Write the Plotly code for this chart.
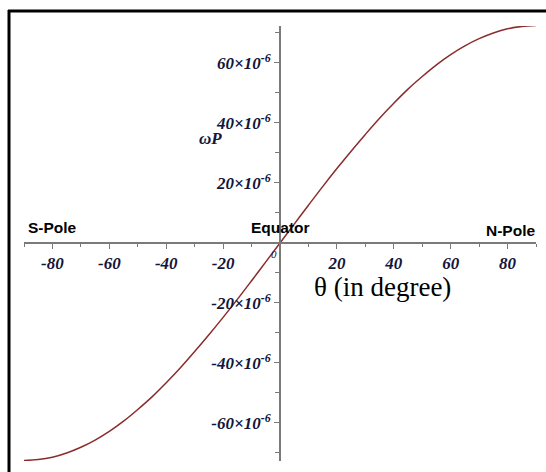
import plotly.graph_objects as go

# latitude (degrees) and omega_P values (in units of 1e-6)
theta_deg = [-90, -85, -80, -75, -70, -65, -60, -55, -50, -45, -40, -35, -30, -25, -20, -15, -10, -5,
             0, 5, 10, 15, 20, 25, 30, 35, 40, 45, 50, 55, 60, 65, 70, 75, 80, 85, 90]
omega_p_micro = [-72.5, -72.2, -71.4, -70.0, -68.1, -65.7, -62.8, -59.4, -55.5, -51.3, -46.6, -41.6,
                 -36.2, -30.6, -24.8, -18.8, -12.6, -6.3,
                 0.0, 6.3, 12.6, 18.8, 24.8, 30.6, 36.2, 41.6, 46.6, 51.3, 55.5, 59.4, 62.8, 65.7,
                 68.1, 70.0, 71.4, 72.2, 72.5]

x_tickvals = [-80, -60, -40, -20, 20, 40, 60, 80]
x_ticktext = ["-80", "-60", "-40", "-20", "20", "40", "60", "80"]
y_tickvals = [-60, -40, -20, 20, 40, 60]
y_ticktext = ["-60×10<sup>-6</sup>", "-40×10<sup>-6</sup>", "-20×10<sup>-6</sup>",
              "20×10<sup>-6</sup>", "40×10<sup>-6</sup>", "60×10<sup>-6</sup>"]

W, H = 546, 472
ml, mr, mt, mb = 24, 10, 26, 11
x_range = [-90, 90]
y_range = [-72.67, 72.33]

axis_col = "#7a7a7a"
lab_col = "#15153a"
tick_font = dict(family="Liberation Serif", size=17, color=lab_col, weight="bold", style="italic")

fig = go.Figure()
fig.add_trace(go.Scatter(x=theta_deg, y=omega_p_micro, mode="lines",
                         line=dict(color="#8b2c2c", width=1.5, shape="spline"),
                         hoverinfo="skip", showlegend=False))

x0_paper = (0 - y_range[0]) / (y_range[1] - y_range[0])
fig.update_layout(
    width=W, height=H,
    margin=dict(l=ml, r=mr, t=mt, b=mb),
    paper_bgcolor="white", plot_bgcolor="white",
    xaxis=dict(range=x_range, anchor="free", position=x0_paper,
               showline=True, linecolor=axis_col, linewidth=1.5,
               showgrid=False, zeroline=False,
               tickmode="array", tickvals=x_tickvals, ticktext=x_ticktext,
               ticks="outside", ticklen=5, tickwidth=1.2, tickcolor=axis_col,
               minor=dict(tickmode="linear", tick0=0, dtick=10, ticks="outside",
                          ticklen=3, tickwidth=1.2, tickcolor=axis_col),
               tickfont=tick_font),
    yaxis=dict(range=y_range, anchor="free", position=0.5,
               showline=True, linecolor=axis_col, linewidth=2,
               showgrid=False, zeroline=False,
               tickmode="array", tickvals=y_tickvals, ticktext=y_ticktext,
               ticks="outside", ticklen=5, tickwidth=1.2, tickcolor=axis_col,
               minor=dict(tickmode="linear", tick0=0, dtick=10, ticks="outside",
                          ticklen=4, tickwidth=1.2, tickcolor=axis_col),
               tickfont=tick_font),
)

# frame (top and left edges visible)
pw, ph = W - ml - mr, H - mt - mb
def px(xp):
    return (xp - ml) / pw
def py(yp):
    return (H - mb - yp) / ph
fig.add_shape(type="line", xref="paper", yref="paper", x0=px(8), x1=px(548), y0=py(11), y1=py(11),
              line=dict(color="black", width=3))
fig.add_shape(type="line", xref="paper", yref="paper", x0=px(9), x1=px(9), y0=py(10), y1=py(475),
              line=dict(color="black", width=3))

sans = dict(family="Liberation Sans", size=15.5, color="black", weight="bold")
fig.add_annotation(x=-80, y=5.3, xref="x", yref="y", text="S-Pole", showarrow=False, font=sans)
fig.add_annotation(x=0, y=5.3, xref="x", yref="y", text="Equator", showarrow=False, font=sans)
fig.add_annotation(x=80.9, y=4.3, xref="x", yref="y", text="N-Pole", showarrow=False, font=sans)
fig.add_annotation(x=36, y=-14.7, xref="x", yref="y", text="θ (in degree)", showarrow=False,
                   font=dict(family="Liberation Serif", size=27, color="black"))
fig.add_annotation(x=-24.6, y=34.7, xref="x", yref="y", text="ωP", showarrow=False,
                   font=dict(family="Liberation Serif", size=17, color=lab_col, style="italic", weight="bold"))
fig.add_annotation(x=-2.1, y=-3.7, xref="x", yref="y", text="0", showarrow=False,
                   font=dict(family="Liberation Serif", size=11, color=lab_col, style="italic"))

fig.write_html("out.html")
